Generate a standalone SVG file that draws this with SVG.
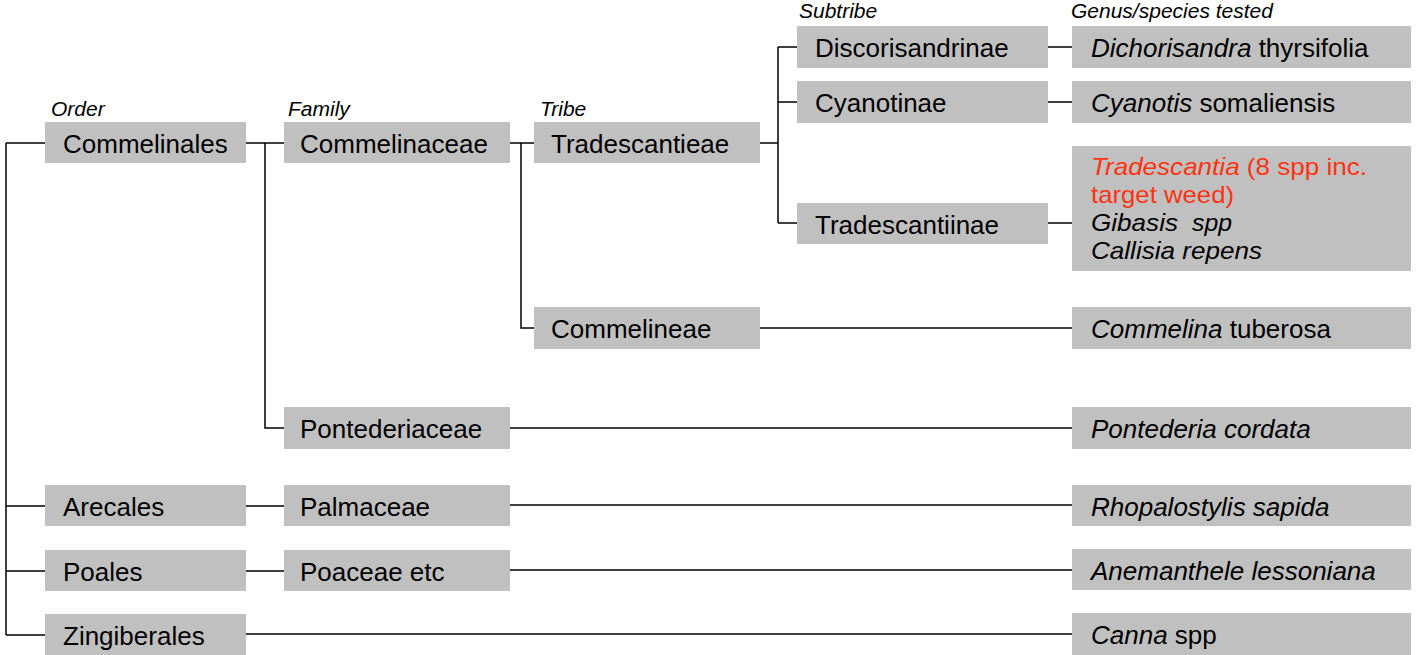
<svg xmlns="http://www.w3.org/2000/svg" width="1416" height="655" viewBox="0 0 1416 655">
<style>
.box{fill:#c0c0c0}
.lbl{font-family:"Liberation Sans",Arial,sans-serif;font-size:26px;fill:#000}
.sm{font-size:24px}
.hdr{font-family:"Liberation Sans",Arial,sans-serif;font-size:21px;font-style:italic;fill:#000}
.it{font-style:italic}
.red{fill:#ff3311}
.ln{stroke:#000;stroke-width:1.5;fill:none}
</style>
<rect width="1416" height="655" fill="#fff"/>
<g id="headers">
<text class="hdr" x="51" y="116">Order</text>
<text class="hdr" x="288" y="116">Family</text>
<text class="hdr" x="540" y="116">Tribe</text>
<text class="hdr" x="799" y="18">Subtribe</text>
<text class="hdr" x="1071" y="18">Genus/species tested</text>
</g>
<g id="connectors">
<path class="ln" d="M6,143 V635 M6,143 H45 M6,506 H45 M6,571 H45 M6,635 H45"/>
<path class="ln" d="M246,143 H284 M265,143 V428 H284"/>
<path class="ln" d="M510,143 H534 M521,143 V328 H534"/>
<path class="ln" d="M760,143 H778 M778,47 V223 M778,47 H797 M778,102 H797 M778,223 H797"/>
<path class="ln" d="M1048,47 H1072 M1048,102 H1072 M1048,223 H1072"/>
<path class="ln" d="M760,328 H1072"/>
<path class="ln" d="M510,428 H1072"/>
<path class="ln" d="M246,506 H284 M510,505 H1072"/>
<path class="ln" d="M246,571 H284 M510,570 H1072"/>
<path class="ln" d="M246,634 H1072"/>
</g>
<g id="commelinales"><rect class="box" x="45" y="122" width="201" height="41"/><text class="lbl" x="63" y="153">Commelinales</text></g>
<g id="commelinaceae"><rect class="box" x="284" y="122" width="226" height="41"/><text class="lbl" x="300" y="153">Commelinaceae</text></g>
<g id="tradescantieae"><rect class="box" x="534" y="122" width="226" height="41"/><text class="lbl" x="551" y="153">Tradescantieae</text></g>
<g id="discorisandrinae"><rect class="box" x="797" y="26" width="251" height="42"/><text class="lbl" x="815" y="57">Discorisandrinae</text></g>
<g id="cyanotinae"><rect class="box" x="797" y="81" width="251" height="42"/><text class="lbl" x="815" y="112">Cyanotinae</text></g>
<g id="tradescantiinae"><rect class="box" x="797" y="203" width="251" height="41"/><text class="lbl" x="815" y="234">Tradescantiinae</text></g>
<g id="commelineae"><rect class="box" x="534" y="307" width="226" height="42"/><text class="lbl" x="551" y="338">Commelineae</text></g>
<g id="pontederiaceae"><rect class="box" x="284" y="407" width="226" height="42"/><text class="lbl" x="300" y="438">Pontederiaceae</text></g>
<g id="arecales"><rect class="box" x="45" y="485" width="201" height="41"/><text class="lbl" x="63" y="516">Arecales</text></g>
<g id="palmaceae"><rect class="box" x="284" y="485" width="226" height="41"/><text class="lbl" x="300" y="516">Palmaceae</text></g>
<g id="poales"><rect class="box" x="45" y="550" width="201" height="41"/><text class="lbl" x="63" y="581">Poales</text></g>
<g id="poaceae"><rect class="box" x="284" y="550" width="226" height="41"/><text class="lbl" x="300" y="581">Poaceae etc</text></g>
<g id="zingiberales"><rect class="box" x="45" y="614" width="201" height="41"/><text class="lbl" x="63" y="645">Zingiberales</text></g>
<g id="sp-dichorisandra"><rect class="box" x="1072" y="26" width="339" height="42"/><text class="lbl" x="1091" y="57"><tspan class="it">Dichorisandra</tspan> thyrsifolia</text></g>
<g id="sp-cyanotis"><rect class="box" x="1072" y="81" width="339" height="42"/><text class="lbl" x="1091" y="112"><tspan class="it">Cyanotis</tspan> somaliensis</text></g>
<g id="sp-tradescantia"><rect class="box" x="1072" y="146" width="339" height="125"/>
<text class="lbl sm red" x="1091" y="175" textLength="276" lengthAdjust="spacingAndGlyphs"><tspan class="it">Tradescantia</tspan> (8 spp inc.</text>
<text class="lbl sm red" x="1091" y="203" textLength="143" lengthAdjust="spacingAndGlyphs">target weed)</text>
<text class="lbl sm it" x="1091" y="231" textLength="87" lengthAdjust="spacingAndGlyphs">Gibasis</text>
<text class="lbl sm it" x="1192" y="231" textLength="40" lengthAdjust="spacingAndGlyphs">spp</text>
<text class="lbl sm it" x="1091" y="259" textLength="171" lengthAdjust="spacingAndGlyphs">Callisia repens</text>
</g>
<g id="sp-commelina"><rect class="box" x="1072" y="307" width="339" height="42"/><text class="lbl" x="1091" y="338"><tspan class="it">Commelina</tspan> tuberosa</text></g>
<g id="sp-pontederia"><rect class="box" x="1072" y="407" width="339" height="42"/><text class="lbl it" x="1091" y="438">Pontederia cordata</text></g>
<g id="sp-rhopalostylis"><rect class="box" x="1072" y="485" width="339" height="41"/><text class="lbl it" x="1091" y="516">Rhopalostylis sapida</text></g>
<g id="sp-anemanthele"><rect class="box" x="1072" y="549" width="339" height="41"/><text class="lbl it" x="1091" y="580">Anemanthele lessoniana</text></g>
<g id="sp-canna"><rect class="box" x="1072" y="613" width="339" height="42"/><text class="lbl" x="1091" y="644"><tspan class="it">Canna</tspan> spp</text></g>
</svg>
